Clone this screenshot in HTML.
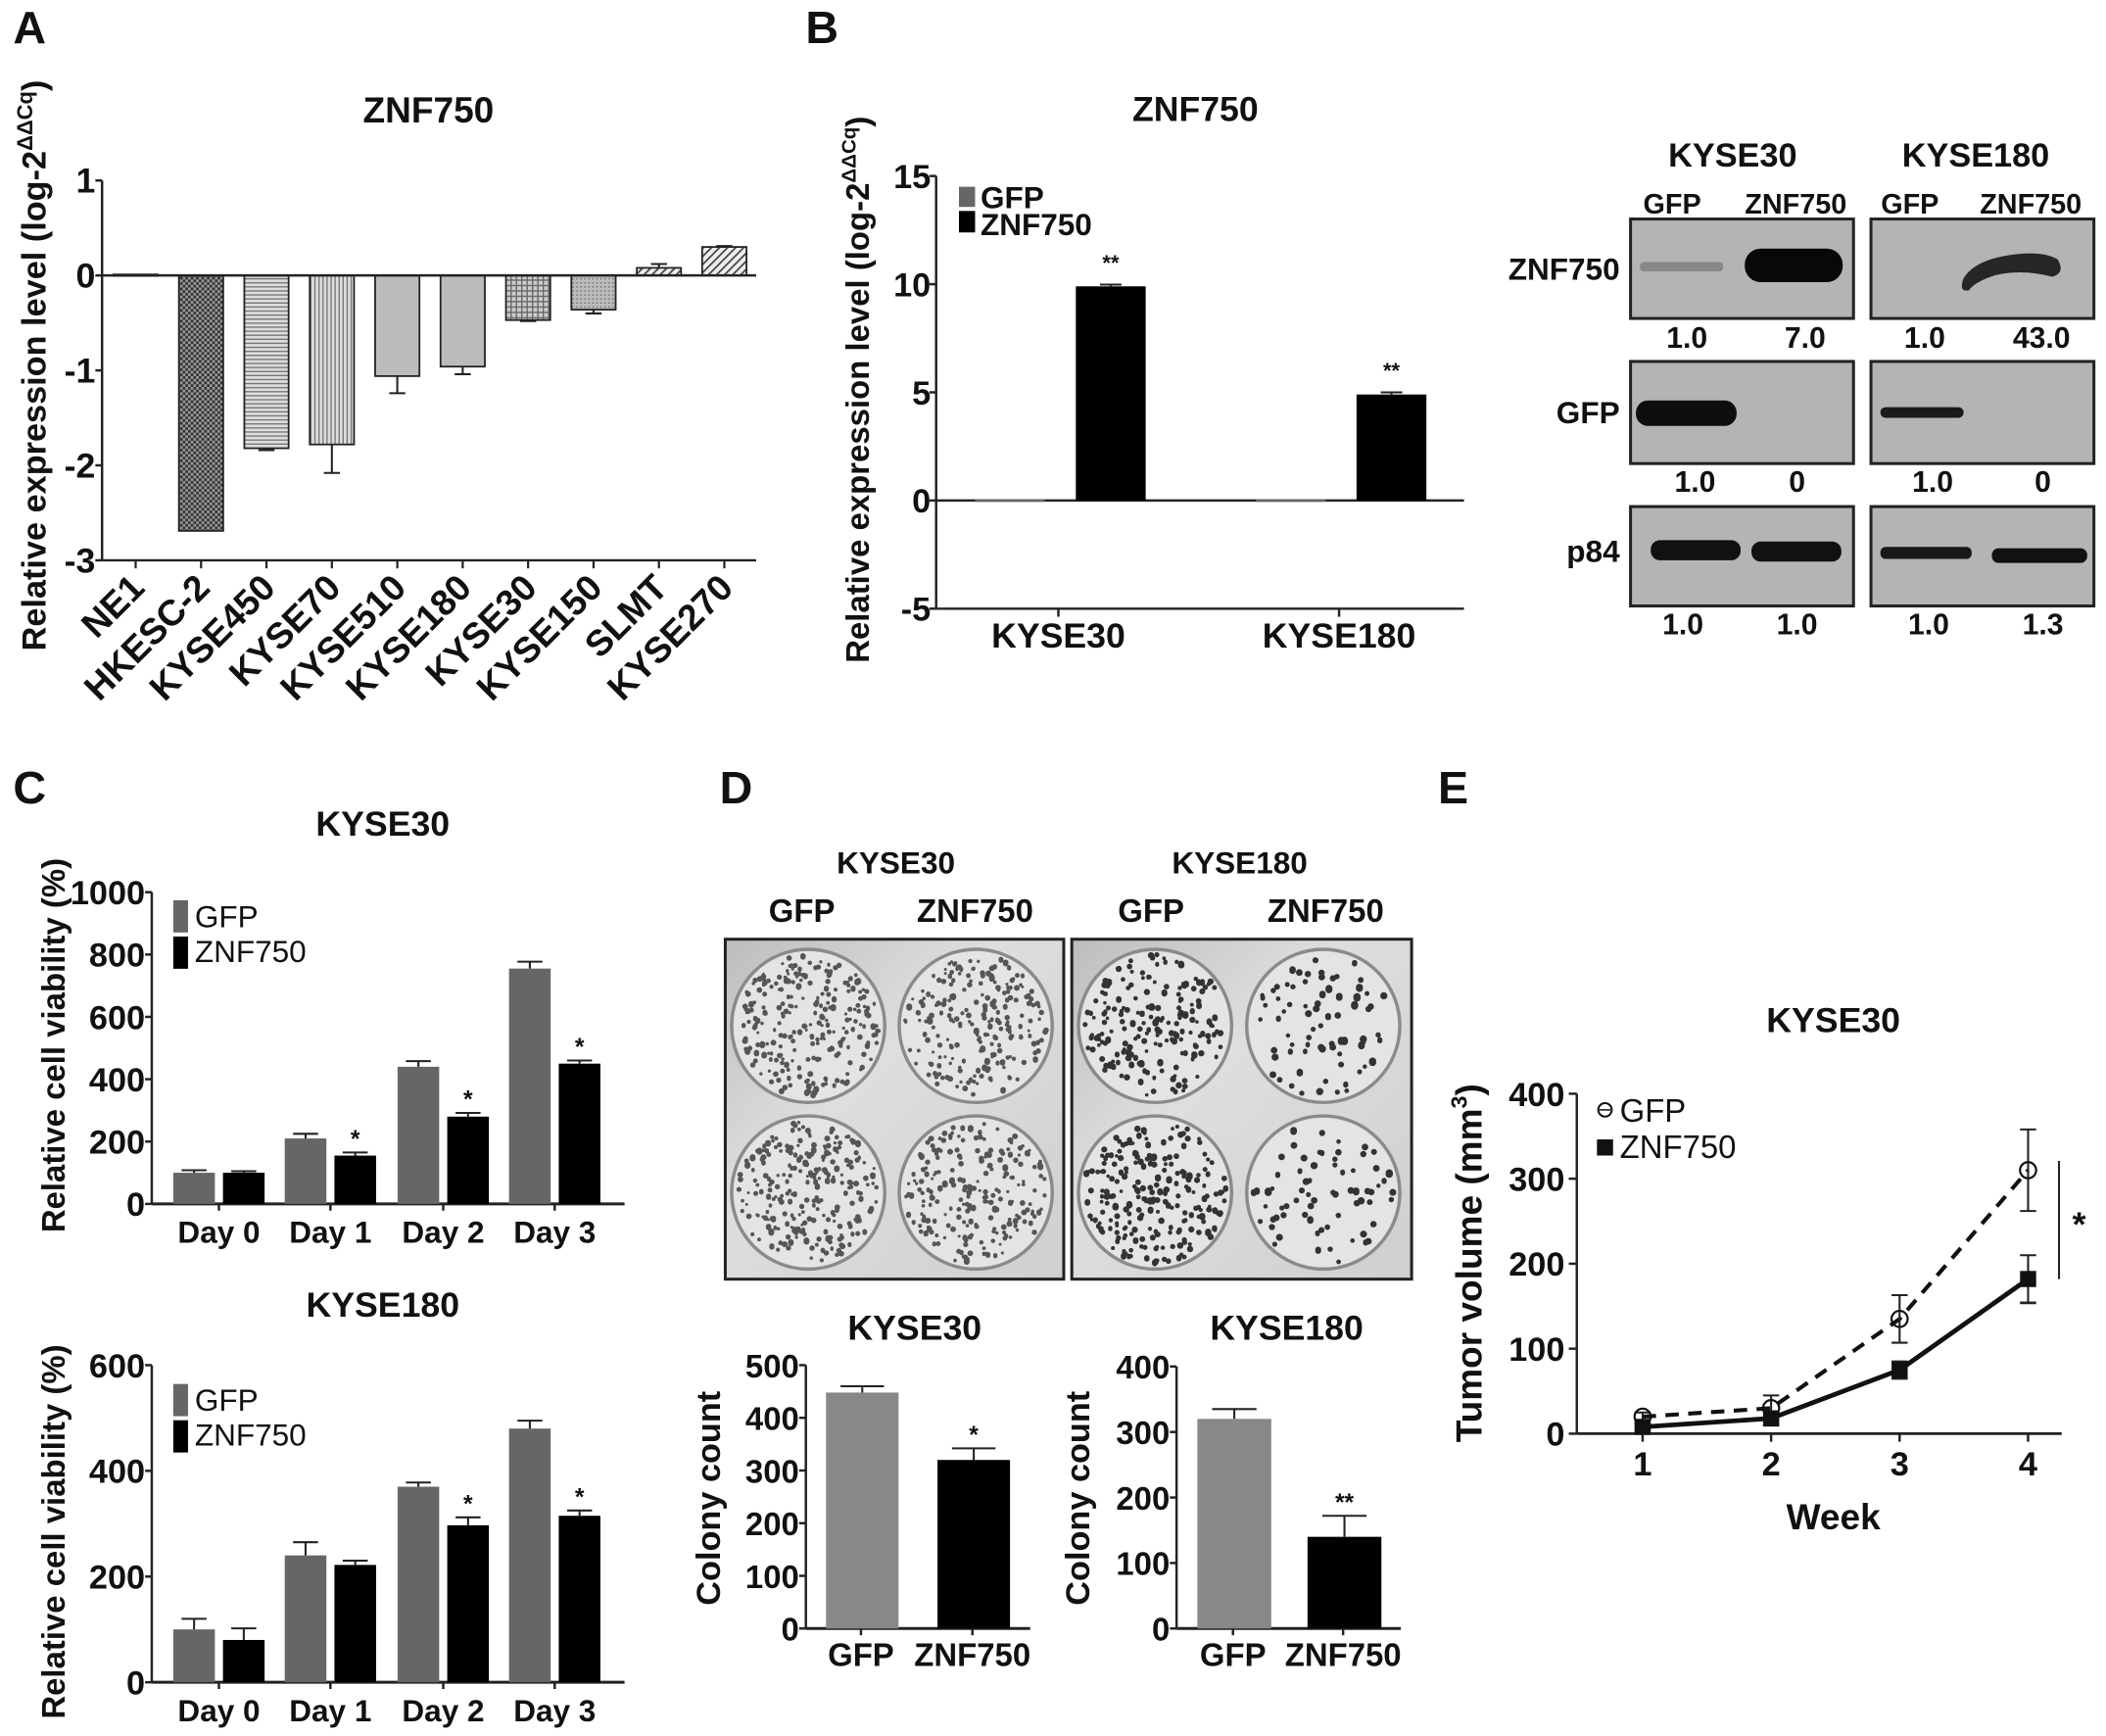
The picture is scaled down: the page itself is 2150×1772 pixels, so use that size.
<!DOCTYPE html>
<html><head><meta charset="utf-8">
<style>
html,body{margin:0;padding:0;background:#fff;}
svg{display:block;}
text{font-family:"Liberation Sans",Arial,sans-serif;font-weight:bold;fill:#111;}
</style></head>
<body>
<svg id="fig" width="2150" height="1772" viewBox="0 0 1568 1292" preserveAspectRatio="none" xmlns="http://www.w3.org/2000/svg">
<defs>
<pattern id="pCross" width="4" height="4" patternUnits="userSpaceOnUse"><rect width="4" height="4" fill="#999"/><rect width="2" height="2" fill="#333"/><rect x="2" y="2" width="2" height="2" fill="#333"/></pattern>
<pattern id="pHoriz" width="4" height="3" patternUnits="userSpaceOnUse"><rect width="4" height="3" fill="#ddd"/><rect width="4" height="1" fill="#777"/></pattern>
<pattern id="pVert" width="3" height="4" patternUnits="userSpaceOnUse"><rect width="3" height="4" fill="#ddd"/><rect width="1" height="4" fill="#777"/></pattern>
<pattern id="pGrid" width="4" height="4" patternUnits="userSpaceOnUse"><rect width="4" height="4" fill="#ccc"/><rect width="4" height="1" fill="#666"/><rect width="1" height="4" fill="#666"/></pattern>
<pattern id="pDots" width="3" height="3" patternUnits="userSpaceOnUse"><rect width="3" height="3" fill="#bbb"/><rect width="1" height="1" fill="#666"/></pattern>
<pattern id="pDiag" width="6" height="6" patternUnits="userSpaceOnUse"><rect width="6" height="6" fill="#eee"/><path d="M0,6 L6,0 M-1,1 L1,-1 M5,7 L7,5" stroke="#444" stroke-width="1.3"/></pattern>
<linearGradient id="plateBg" x1="0" y1="0" x2="1" y2="1"><stop offset="0" stop-color="#bdbdbd"/><stop offset="0.4" stop-color="#dedede"/><stop offset="1" stop-color="#cfcfcf"/></linearGradient>
</defs>
</svg>
<script>
// ---------- DATA ----------
const aCategories = ["NE1","HKESC-2","KYSE450","KYSE70","KYSE510","KYSE180","KYSE30","KYSE150","SLMT","KYSE270"];
const aValues = [0.01,-2.69,-1.82,-1.78,-1.06,-0.96,-0.47,-0.36,0.08,0.30];
const aErrors = [0.0,0.0,0.02,0.30,0.18,0.08,0.01,0.04,0.04,0.01];
const aTicks = [1,0,-1,-2,-3];
const bCategories = ["KYSE30","KYSE180"];
const bGfp = [0,0];
const bZnf = [9.9,4.9];
const bZnfErr = [0.08,0.1];
const bTicks = [15,10,5,0,-5];
const bBlotNums = [["1.0","7.0","1.0","43.0"],["1.0","0","1.0","0"],["1.0","1.0","1.0","1.3"]];
const cDays = ["Day 0","Day 1","Day 2","Day 3"];
const c30Gfp = [100,210,440,755];
const c30GfpErr = [8,15,18,22];
const c30Znf = [100,155,280,450];
const c30ZnfErr = [5,10,12,10];
const c30Stars = ["","*","*","*"];
const c30Ticks = [0,200,400,600,800,1000];
const c180Gfp = [100,240,370,480];
const c180GfpErr = [20,25,8,15];
const c180Znf = [80,222,297,315];
const c180ZnfErr = [22,8,15,10];
const c180Stars = ["","","*","*"];
const c180Ticks = [0,200,400,600];
const dGroups = ["GFP","ZNF750"];
const d30Values = [448,320];
const d30Err = [12,22];
const d30Stars = ["","*"];
const d30Ticks = [0,100,200,300,400,500];
const d180Values = [320,140];
const d180Err = [15,32];
const d180Stars = ["","**"];
const d180Ticks = [0,100,200,300,400];
const eWeeks = [1,2,3,4];
const eGfp = [20,30,135,310];
const eGfpErr = [5,15,28,48];
const eZnf = [8,18,75,182];
const eZnfErr = [4,8,10,28];
const eTicks = [0,100,200,300,400];

// ---------- HELPERS ----------
const NS="http://www.w3.org/2000/svg";
const svg=document.getElementById('fig');
function el(tag,attrs,parent){const e=document.createElementNS(NS,tag);for(const k in attrs)e.setAttribute(k,attrs[k]);(parent||svg).appendChild(e);return e;}
function txt(x,y,s,size,anchor,parent){const t=el('text',{x:x,y:y,'font-size':size,'text-anchor':anchor||'middle'},parent);t.textContent=s;return t;}
function line(x1,y1,x2,y2,w,parent){return el('line',{x1:x1,y1:y1,x2:x2,y2:y2,stroke:'#222','stroke-width':w||1.6},parent);}
function lin(d0,d1,r0,r1){return v=>r0+(v-d0)*(r1-r0)/(d1-d0);}
function errBar(x,y1,y2,hw,parent){line(x,y1,x,y2,1.5,parent);line(x-hw,y2,x+hw,y2,1.5,parent);}

[["A",22,32],["B",612,32],["C",22,598],["D",548,598],["E",1082,598]].forEach(p=>{
  const t=txt(p[1],p[2],p[0],34);
  
  
});

// ---------- PANEL A ----------
(function(){
  const g=el('g',{});
  
  
  const y=lin(0,-3,205,417);
  const step=48.7, x0=101, ax=76, axEnd=563;
  const fills=["#888","url(#pCross)","url(#pHoriz)","url(#pVert)","#bbb","#bbb","url(#pGrid)","url(#pDots)","url(#pDiag)","url(#pDiag)"];
  const t=txt(319,91,"ZNF750",27,'middle',g);
  
  
  line(ax,y(1),ax,y(-3),1.8,g);
  line(ax,y(-3),axEnd,y(-3),1.8,g);
  aTicks.forEach(v=>{line(ax-5,y(v),ax,y(v),1.8,g);
    const tk=txt(71,y(v)+9,String(v),26,'end',g);
    
    });
  aCategories.forEach((c,i)=>{
    const cx=x0+step*i, v=aValues[i];
    line(cx,y(-3),cx,y(-3)+6,1.6,g);
    const top=Math.min(y(0),y(v)), h=Math.max(1,Math.abs(y(v)-y(0)));
    const r=el('rect',{x:cx-16.5,y:top,width:33,height:h,fill:fills[i],stroke:'#222','stroke-width':1.3},g);
    
    
    if(aErrors[i]>0){const ye=v<0?y(v-aErrors[i]):y(v+aErrors[i]);errBar(cx,y(v),ye,6,g);}
    const lb=txt(cx+8,y(-3)+22,c,27,'end',g);
    lb.setAttribute('transform','rotate(-45 '+(cx+8)+' '+(y(-3)+22)+')');
    
    
  });
  line(ax,y(0),axEnd,y(0),1.8,g);
  const yl=txt(0,0,"",25,'middle',g);
  yl.setAttribute('transform','translate(34 272) rotate(-90)');
  yl.innerHTML='Relative expression level (log-2<tspan font-size="16" dy="-10">ΔΔCq</tspan><tspan dy="10">)</tspan>';
  
  
})();

// ---------- PANEL B CHART ----------
(function(){
  const g=el('g',{});
  
  
  const y=lin(0,15,372.5,131);
  const ax=697;
  const t=txt(890,90,"ZNF750",26,'middle',g);
  
  
  line(ax,y(15),ax,y(-5),1.8,g);
  line(ax,y(0),1090,y(0),1.8,g);
  line(ax,y(-5),1090,y(-5),1.8,g);
  bTicks.forEach(v=>{line(ax-5,y(v),ax,y(v),1.8,g);
    const tk=txt(693,y(v)+9,String(v),25,'end',g);
    
    });
  const centers=[788,997];
  bCategories.forEach((c,i)=>{
    line(centers[i],y(-5),centers[i],y(-5)+6,1.8,g);
    const gx=centers[i]-62, zx=centers[i]+13;
    const r1=el('rect',{x:gx,y:y(Math.max(bGfp[i],0))-1,width:52,height:Math.max(2,Math.abs(y(bGfp[i])-y(0))),fill:'#666'},g);
    
    
    const r2=el('rect',{x:zx,y:y(bZnf[i]),width:52,height:y(0)-y(bZnf[i]),fill:'#000'},g);
    
    
    errBar(zx+26,y(bZnf[i]),y(bZnf[i]+bZnfErr[i]),8,g);
    const s=txt(zx+26,y(bZnf[i])-12,"**",16,'middle',g);
    
    
    const lb=txt(centers[i],482,c,26,'middle',g);
    
    
  });
  const lg=el('g',{},g);
  
  
  el('rect',{x:714,y:139,width:12,height:15,fill:'#666'},lg);
  txt(730,155,"GFP",23,'start',lg);
  el('rect',{x:714,y:157,width:12,height:16,fill:'#000'},lg);
  txt(730,175,"ZNF750",23,'start',lg);
  const yl=txt(0,0,"",24,'middle',g);
  yl.setAttribute('transform','translate(647 290) rotate(-90)');
  yl.innerHTML='Relative expression level (log-2<tspan font-size="15" dy="-10">ΔΔCq</tspan><tspan dy="10">)</tspan>';
  
  
})();

// ---------- PANEL B BLOTS ----------
(function(){
  const g=el('g',{});
  
  
  txt(1290,124,"KYSE30",25,'middle',g);
  txt(1471,124,"KYSE180",25,'middle',g);
  [["GFP",1245],["ZNF750",1337],["GFP",1422],["ZNF750",1512]].forEach(a=>txt(a[1],159,a[0],21,'middle',g));
  const boxes=[[1214,1380],[1393,1559]], rows=[[163,237],[269,345],[377,451]];
  [["ZNF750",208],["GFP",315],["p84",418]].forEach(a=>txt(1206,a[1],a[0],23,'end',g));
  const numX=[[1256,1344,1433,1520],[1262,1338,1439,1521],[1253,1338,1436,1521]];
  const numY=[259,366,472];
  rows.forEach((r,ri)=>{
    boxes.forEach(b=>{
      const bx=el('rect',{x:b[0],y:r[0],width:b[1]-b[0],height:r[1]-r[0],fill:'#b4b4b4',stroke:'#222','stroke-width':2.2},g);
      
      
    });
    bBlotNums[ri].forEach((n,k)=>txt(numX[ri][k],numY[ri],n,22,'middle',g));
  });
  el('rect',{x:1221,y:195,width:62,height:7,rx:3,fill:'#888'},g);
  el('rect',{x:1299,y:185,width:73,height:25,rx:12,fill:'#080808'},g);
  el('path',{d:'M1462,207 Q1470,194 1495,190 Q1520,186 1532,193 Q1538,203 1528,206 Q1505,200 1485,205 Q1470,210 1466,216 Q1458,218 1462,207 Z',fill:'#262626'},g);
  el('rect',{x:1218,y:298,width:75,height:19,rx:9,fill:'#0e0e0e'},g);
  el('rect',{x:1400,y:303,width:62,height:8,rx:4,fill:'#1a1a1a'},g);
  el('rect',{x:1229,y:402,width:67,height:15,rx:7,fill:'#111'},g);
  el('rect',{x:1304,y:403,width:67,height:15,rx:7,fill:'#111'},g);
  el('rect',{x:1400,y:407,width:68,height:9,rx:4,fill:'#181818'},g);
  el('rect',{x:1483,y:408,width:71,height:11,rx:5,fill:'#111'},g);
})();

// ---------- BAR CHART HELPER (C & D) ----------
function groupedChart(o){
  const g=el('g',{});
  
  
  const y=lin(0,o.max,o.y0,o.yTop);
  const t=txt(o.titleX,o.titleY,o.title,26,'middle',g);
  
  
  line(o.ax,o.yTop,o.ax,o.y0,1.8,g);
  line(o.ax,o.y0,o.xEnd,o.y0,2.2,g);
  o.ticks.forEach(v=>{line(o.ax-5,y(v),o.ax,y(v),1.8,g);
    const tk=txt(o.ax-5,y(v)+9,String(v),o.tickSize||24,'end',g);
    
    });
  o.series.forEach(s=>{
    s.values.forEach((v,i)=>{
      const cx=o.centers[i]+s.off;
      const r=el('rect',{x:cx-o.bw/2,y:y(v),width:o.bw,height:o.y0-y(v),fill:s.color},g);
      
      
      if(s.err)errBar(cx,y(v),y(v+s.err[i]),o.bw*0.3,g);
      if(s.stars&&s.stars[i]){const st=txt(cx,y(v+s.err[i])-4,s.stars[i],18,'middle',g);
        
        }
    });
  });
  o.labelX.forEach(x=>line(x,o.y0,x,o.y0+5,1.8,g));
  o.labels.forEach((l,i)=>{const lb=txt(o.labelX[i],o.labelY,l,o.labelSize||22,'middle',g);
    
    });
  const yl=txt(0,0,o.ylabel,o.ylSize||24,'middle',g);
  yl.setAttribute('transform','translate('+o.ylx+' '+o.yly+') rotate(-90)');
  
  
  if(o.legend){
    const lg=el('g',{},g);
    
    
    el('rect',{x:o.legend[0],y:o.legend[1],width:11,height:24,fill:'#666'},lg);
    txt(o.legend[0]+16,o.legend[1]+20,"GFP",23,'start',lg).style.fontWeight='normal';
    el('rect',{x:o.legend[0],y:o.legend[1]+27,width:11,height:24,fill:'#000'},lg);
    txt(o.legend[0]+16,o.legend[1]+46,"ZNF750",23,'start',lg).style.fontWeight='normal';
  }
  return g;
}
groupedChart({name:'panel-c-kyse30',title:'KYSE30',titleX:285,titleY:622,max:1000,y0:896,yTop:664,ax:113,xEnd:465,
  ticks:c30Ticks,centers:[163,246,330,413],bw:31,labels:cDays,labelX:[163,246,330,413],labelY:925,labelSize:23,tickSize:25,
  series:[{key:'gfp',values:c30Gfp,err:c30GfpErr,color:'#666',off:-18.5},{key:'znf750',values:c30Znf,err:c30ZnfErr,stars:c30Stars,color:'#000',off:18.5}],
  ylabel:'Relative cell viability (%)',ylx:48,yly:778,legend:[129,670]});
groupedChart({name:'panel-c-kyse180',title:'KYSE180',titleX:285,titleY:980,max:600,y0:1252,yTop:1016,ax:113,xEnd:465,
  ticks:c180Ticks,centers:[163,246,330,413],bw:31,labels:cDays,labelX:[163,246,330,413],labelY:1281,labelSize:23,tickSize:25,
  series:[{key:'gfp',values:c180Gfp,err:c180GfpErr,color:'#666',off:-18.5},{key:'znf750',values:c180Znf,err:c180ZnfErr,stars:c180Stars,color:'#000',off:18.5}],
  ylabel:'Relative cell viability (%)',ylx:48,yly:1140,legend:[129,1030]});
groupedChart({name:'panel-d-kyse30-colony',title:'KYSE30',titleX:681,titleY:997,max:500,y0:1212,yTop:1016,ax:600,xEnd:767,
  ticks:d30Ticks,centers:[0],bw:54,labels:dGroups,labelX:[641,724],labelY:1240,labelSize:24,tickSize:24,
  series:[{key:'gfp',values:[d30Values[0]],err:[d30Err[0]],color:'#888',off:642},{key:'znf750',values:[d30Values[1]],err:[d30Err[1]],stars:[d30Stars[1]],color:'#000',off:725}],
  ylabel:'Colony count',ylx:536,yly:1115,ylSize:25});
groupedChart({name:'panel-d-kyse180-colony',title:'KYSE180',titleX:958,titleY:997,max:400,y0:1212,yTop:1017,ax:876,xEnd:1043,
  ticks:d180Ticks,centers:[0],bw:55,labels:dGroups,labelX:[918,1000],labelY:1240,labelSize:24,tickSize:24,
  series:[{key:'gfp',values:[d180Values[0]],err:[d180Err[0]],color:'#888',off:919},{key:'znf750',values:[d180Values[1]],err:[d180Err[1]],stars:[d180Stars[1]],color:'#000',off:1001}],
  ylabel:'Colony count',ylx:811,yly:1115,ylSize:25});

// ---------- PANEL D PLATES ----------
(function(){
  const g=el('g',{});
  
  
  txt(667,650,"KYSE30",23,'middle',g);
  txt(923,650,"KYSE180",23,'middle',g);
  [["GFP",597],["ZNF750",726],["GFP",857],["ZNF750",987]].forEach(a=>txt(a[1],686,a[0],24,'middle',g));
  const plates=[[540,792],[798,1051]];
  let seed=7;function rnd(){seed=(seed*16807)%2147483647;return seed/2147483647;}
  const density=[[260,230],[250,230],[190,75],[230,70]];
  const dotSize=[[1.1,1.1],[1.3,1.6]];
  plates.forEach((p,pi)=>{
    const r=el('rect',{x:p[0],y:699,width:p[1]-p[0],height:253,fill:'url(#plateBg)',stroke:'#222','stroke-width':2.2},g);
    
    
    const w=p[1]-p[0], rad=57;
    [[0,0],[1,0],[0,1],[1,1]].forEach(c=>{
      const cx=p[0]+w*(0.245+0.495*c[0]), cy=763.5+124*c[1];
      const well=el('circle',{cx:cx,cy:cy,r:rad,fill:'#e4e4e4',stroke:'#8a8a8a','stroke-width':2.5},g);
      
      
      const n=density[pi*2+c[1]][c[0]];
      const base=dotSize[pi][c[0]];
      let d='';
      for(let k=0;k<n;k++){const a=rnd()*6.283,rr=Math.sqrt(rnd())*(rad-4);
        const x=cx+rr*Math.cos(a),y=cy+rr*Math.sin(a),s=base+rnd()*1.1;
        d+='M'+(x-s).toFixed(1)+','+y.toFixed(1)+'a'+s.toFixed(1)+','+s.toFixed(1)+' 0 1,0 '+(2*s).toFixed(1)+',0a'+s.toFixed(1)+','+s.toFixed(1)+' 0 1,0 '+(-2*s).toFixed(1)+',0';}
      el('path',{d:d,fill:pi===0?'#555':'#333'},g);
    });
  });
})();

// ---------- PANEL E ----------
(function(){
  const g=el('g',{});
  
  
  const y=lin(0,400,1067,814), x=lin(1,4,1223,1510);
  const t=txt(1365,768,"KYSE30",26,'middle',g);
  
  
  line(1174,814,1174,1067,1.8,g);
  line(1174,1067,1535,1067,2,g);
  eTicks.forEach(v=>{line(1168,y(v),1174,y(v),1.8,g);
    const tk=txt(1165,y(v)+9,String(v),25,'end',g);
    
    });
  eWeeks.forEach(w=>{line(x(w),1067,x(w),1073,1.8,g);
    const tk=txt(x(w),1098,String(w),25,'middle',g);
    
    });
  const xl=txt(1365,1138,"Week",27,'middle',g);
  
  
  const yl=txt(0,0,"",27,'middle',g);
  yl.setAttribute('transform','translate(1103 940) rotate(-90)');
  yl.innerHTML='Tumor volume (mm<tspan font-size="17" dy="-11">3</tspan><tspan dy="11">)</tspan>';
  
  
  const gp=eWeeks.map((w,i)=>x(w)+','+y(eGfp[i])).join(' ');
  const l1=el('polyline',{points:gp,fill:'none',stroke:'#111','stroke-width':3,'stroke-dasharray':'10,7'},g);
  
  
  const zp=eWeeks.map((w,i)=>x(w)+','+y(eZnf[i])).join(' ');
  const l2=el('polyline',{points:zp,fill:'none',stroke:'#111','stroke-width':3.5},g);
  
  
  eWeeks.forEach((w,i)=>{
    errBar(x(w),y(eGfp[i]-eGfpErr[i]),y(eGfp[i]+eGfpErr[i]),6,g);
    line(x(w)-6,y(eGfp[i]-eGfpErr[i]),x(w)+6,y(eGfp[i]-eGfpErr[i]),1.5,g);
    errBar(x(w),y(eZnf[i]-eZnfErr[i]),y(eZnf[i]+eZnfErr[i]),6,g);
    line(x(w)-6,y(eZnf[i]-eZnfErr[i]),x(w)+6,y(eZnf[i]-eZnfErr[i]),2,g);
    const c=el('circle',{cx:x(w),cy:y(eGfp[i]),r:6,fill:'none',stroke:'#111','stroke-width':1.6},g);
    
    
    const s=el('rect',{x:x(w)-6,y:y(eZnf[i])-6,width:12,height:12,fill:'#111'},g);
    
    
  });
  line(1533,864,1533,952,1.5,g);
  const st=txt(1548,920,"*",26,'middle',g);
  
  
  const lg=el('g',{},g);
  
  
  el('circle',{cx:1195,cy:826,r:5,fill:'#fff',stroke:'#111','stroke-width':1.5},lg);
  line(1191,826,1199,826,1.2,lg);
  txt(1206,835,"GFP",24,'start',lg).style.fontWeight='normal';
  el('rect',{x:1189,y:848,width:12,height:12,fill:'#111'},lg);
  txt(1206,862,"ZNF750",24,'start',lg).style.fontWeight='normal';
})();
</script>
</body></html>
